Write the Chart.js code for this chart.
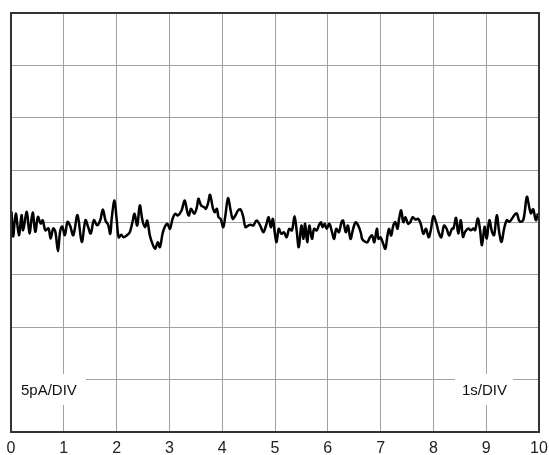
<!DOCTYPE html>
<html>
<head>
<meta charset="utf-8">
<script src="https://cdn.jsdelivr.net/npm/chart.js@4.4.1/dist/chart.umd.min.js"></script>
<style>
  html, body { margin: 0; padding: 0; background: #fff; }
  #wrap { width: 549px; height: 455px; }
</style>
</head>
<body>
<div id="wrap"><canvas id="noise"></canvas></div>
<script>
// --- data: time in seconds, current in pA ---
const timeSec = [
  0.01, 0.04, 0.09, 0.15, 0.20, 0.23, 0.30, 0.35, 0.41, 0.46, 0.51, 0.56, 0.60, 0.65, 0.71, 0.75,
  0.80, 0.84, 0.89, 0.93, 0.97, 1.02, 1.07, 1.12, 1.18, 1.26, 1.34, 1.41, 1.46, 1.51, 1.57, 1.63,
  1.69, 1.74, 1.79, 1.84, 1.88, 1.91, 1.96, 2.00, 2.04, 2.09, 2.13, 2.19, 2.25, 2.30, 2.34, 2.39,
  2.44, 2.49, 2.54, 2.58, 2.63, 2.68, 2.73, 2.78, 2.82, 2.87, 2.91, 2.96, 3.01, 3.06, 3.11, 3.16,
  3.23, 3.29, 3.34, 3.37, 3.41, 3.47, 3.52, 3.55, 3.60, 3.66, 3.69, 3.73, 3.77, 3.82, 3.86, 3.90,
  3.93, 3.97, 4.02, 4.06, 4.11, 4.16, 4.20, 4.25, 4.30, 4.35, 4.40, 4.44, 4.49, 4.54, 4.59, 4.65,
  4.72, 4.78, 4.83, 4.88, 4.92, 4.96, 4.99, 5.03, 5.07, 5.12, 5.17, 5.22, 5.27, 5.32, 5.37, 5.41,
  5.45, 5.50, 5.54, 5.57, 5.61, 5.65, 5.70, 5.74, 5.79, 5.83, 5.87, 5.90, 5.94, 5.98, 6.03, 6.08,
  6.12, 6.16, 6.21, 6.26, 6.29, 6.34, 6.38, 6.43, 6.48, 6.53, 6.59, 6.63, 6.65, 6.70, 6.75, 6.80,
  6.84, 6.88, 6.93, 6.96, 7.00, 7.05, 7.09, 7.13, 7.16, 7.20, 7.24, 7.28, 7.32, 7.35, 7.39, 7.43,
  7.47, 7.52, 7.56, 7.61, 7.66, 7.71, 7.76, 7.81, 7.86, 7.91, 7.95, 8.00, 8.05, 8.10, 8.15, 8.20,
  8.25, 8.30, 8.35, 8.38, 8.43, 8.47, 8.52, 8.56, 8.60, 8.66, 8.71, 8.76, 8.79, 8.84, 8.88, 8.92,
  8.97, 9.01, 9.06, 9.11, 9.15, 9.20, 9.25, 9.29, 9.34, 9.39, 9.44, 9.49, 9.54, 9.58, 9.62, 9.65,
  9.70, 9.73, 9.77, 9.82, 9.85, 9.89, 9.94, 9.98
];
const currentPA = [
  1.05, -1.34, 0.86, -1.21, 0.70, -0.74, 1.02, -1.05, 0.96, -0.89, 0.54, -0.10, 0.22, -0.74, -0.57, -1.53,
  -0.57, -0.89, -2.74, -0.86, -0.38, -1.21, 0.07, -0.32, -1.21, 0.70, -1.85, 0.22, -0.41, -1.05, 0.22, -0.26,
  0.22, 1.24, 0.19, -0.22, -1.08, 0.51, 2.10, 0.35, -1.41, -1.18, -1.41, -1.24, -0.93, 0.03, 0.83, -0.29,
  1.63, 0.19, -0.45, 0.19, -1.24, -2.04, -2.51, -1.88, -2.36, -1.08, -0.45, -0.12, -0.60, 0.35, 0.83, 0.67,
  1.15, 2.10, 0.98, 0.67, 1.31, 0.83, 1.46, 2.27, 1.63, 1.46, 1.31, 1.79, 2.65, 1.46, 0.98, 1.31,
  0.51, 0.35, -0.45, 0.67, 2.32, 1.15, 0.35, 0.67, 1.15, 1.24, 0.51, -0.45, -0.29, -0.22, -0.29, 0.19,
  -0.29, -0.93, -0.29, 0.51, -0.45, 0.35, -0.76, -1.88, -0.60, -1.08, -0.93, -1.41, -0.60, -0.76, 0.60, -0.76,
  -2.36, -0.29, -1.56, -0.12, -1.88, -0.29, -1.56, -0.60, -0.76, -0.29, 0.03, -0.45, -0.12, -0.60, -0.12, -0.93,
  -1.56, -0.60, -0.93, 0.03, 0.19, -0.93, -0.29, -1.56, -0.60, 0.03, -0.45, -1.08, -1.56, -1.82, -1.88, -1.41,
  -1.24, -1.88, -0.60, -1.56, -1.41, -2.04, -2.51, -1.24, -0.60, -1.24, -0.29, 0.03, -0.60, 0.35, 1.15, 0.03,
  0.51, -0.12, 0.03, 0.51, 0.29, 0.35, -0.12, -1.08, -0.60, -1.41, -0.76, 0.60, 0.03, -0.93, -1.41, -0.29,
  -0.60, -1.24, -0.60, -0.57, 0.45, -1.05, 0.22, -1.37, -0.89, -0.57, -0.74, -0.57, -0.74, 0.38, -0.57, -2.17,
  -0.41, -1.53, 0.22, -0.89, -1.21, 0.70, -1.05, -1.85, -0.57, 0.22, 0.07, 0.38, 0.76, 0.86, 0.22, 0.07,
  0.22, 1.02, 2.46, 1.34, 0.86, 1.27, 0.22, 0.86
];
const xTicks = [0, 1, 2, 3, 4, 5, 6, 7, 8, 9, 10];
const yLimits = [-20, 20];      // 8 divisions of 5 pA
const scaleNotes = ['5pA/DIV', '1s/DIV'];

const points = timeSec.map((t, i) => ({ x: t, y: currentPA[i] }));

// frame + scale notes drawn on top of the grid
const scopeFrame = {
    id: 'scopeFrame',
    beforeDatasetsDraw(chart) {
        const { ctx, chartArea: a } = chart;
        ctx.save();
        ctx.fillStyle = '#fff';
        ctx.fillRect(a.left + 1, 374, 74, 31);
        ctx.fillRect(455, 374, 58, 31);
        ctx.fillStyle = '#111';
        ctx.font = '15px "Liberation Sans", Arial, sans-serif';
        ctx.textBaseline = 'middle';
        ctx.textAlign = 'left';
        ctx.fillText(scaleNotes[0], a.left + 10, 391);
        ctx.fillText(scaleNotes[1], 462, 391);
        ctx.restore();
    },
    afterDraw(chart) {
        const { ctx, chartArea: a } = chart;
        ctx.save();
        ctx.strokeStyle = '#333';
        ctx.lineWidth = 2;
        ctx.strokeRect(a.left, a.top, a.right - a.left, a.bottom - a.top);
        ctx.restore();
    }
};

new Chart(document.getElementById('noise'), {
    type: 'line',
    data: {
        datasets: [{
            data: points,
            borderColor: '#000',
            borderWidth: 2.5,
            pointRadius: 0,
            tension: 0.35,
            fill: false
        }]
    },
    options: {
        responsive: true,
        maintainAspectRatio: false,
        animation: false,
        layout: { padding: { left: 11, top: 13, right: 10, bottom: 0 } },
        plugins: { legend: { display: false }, tooltip: { enabled: false } },
        scales: {
            x: {
                type: 'linear',
                min: xTicks[0],
                max: xTicks[xTicks.length - 1],
                afterBuildTicks: (axis) => { axis.ticks = xTicks.map(v => ({ value: v })); },
                afterFit: (axis) => {
                    axis.height = 23;
                    axis.paddingLeft = 0;
                    axis.paddingRight = 0;
                },
                grid: { color: '#a0a0a0', lineWidth: 1, drawTicks: false },
                border: { display: false },
                ticks: {
                    color: '#222',
                    padding: 7,
                    maxRotation: 0,
                    font: { family: '"Liberation Sans", Arial, sans-serif', size: 16 }
                }
            },
            y: {
                min: yLimits[0],
                max: yLimits[1],
                ticks: { display: false, stepSize: 5 },
                afterFit: (axis) => { axis.width = 0; },
                grid: { color: '#a0a0a0', lineWidth: 1, drawTicks: false },
                border: { display: false }
            }
        }
    },
    plugins: [scopeFrame]
});
</script>
</body>
</html>
